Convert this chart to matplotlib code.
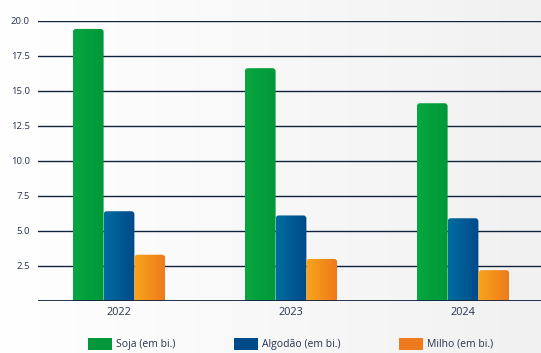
import matplotlib.pyplot as plt
import numpy as np
from matplotlib.colors import LinearSegmentedColormap
from matplotlib.patches import FancyBboxPatch, Patch

anos = ["2022", "2023", "2024"]
soja = [19.4, 16.6, 14.1]
algodao = [6.4, 6.1, 5.9]
milho = [3.3, 3.0, 2.2]

series = [
    ("Soja (em bi.)", soja, ("#08a640", "#00983a")),
    ("Algodão (em bi.)", algodao, ("#006ca0", "#004a8a")),
    ("Milho (em bi.)", milho, ("#f8a41c", "#ee7b1b")),
]

yticks = [2.5, 5.0, 7.5, 10.0, 12.5, 15.0, 17.5, 20.0]
texto = "#26334d"
linha = "#13233f"

fig = plt.figure(figsize=(5.41, 3.53), dpi=100)

# fundo com leve degradê
bg = fig.add_axes([0, 0, 1, 1], zorder=-2)
bg.imshow(np.linspace(0, 1, 256).reshape(1, -1), aspect="auto",
          cmap=LinearSegmentedColormap.from_list("bg", ["#ffffff", "#f1f1f1"]),
          extent=[0, 1, 0, 1])
bg.axis("off")

ax = fig.add_axes([38 / 541, 1 - 301 / 353, 1 - 38 / 541, (301 - 20.5) / 353])
ax.patch.set_alpha(0)

x = np.arange(len(anos))
largura = 0.179
offsets = [-largura, 0, largura]

for (nome, vals, cores), off in zip(series, offsets):
    barras = ax.bar(x + off, vals, largura, color="none", edgecolor="none")
    cmap = LinearSegmentedColormap.from_list(nome, cores)
    for b in barras:
        x0, w, h = b.get_x(), b.get_width(), b.get_height()
        forma = FancyBboxPatch((x0, -1), w, h + 1,
                               boxstyle="round,pad=0,rounding_size=0.018",
                               mutation_aspect=12.3, facecolor="none",
                               edgecolor="none", transform=ax.transData)
        ax.add_patch(forma)
        img = ax.imshow(np.linspace(0, 1, 64).reshape(1, -1), cmap=cmap,
                        aspect="auto", extent=[x0, x0 + w, -1, h], zorder=2)
        img.set_clip_path(forma)

ax.set_xlim(-81 / 172, 422 / 172)
ax.set_ylim(0, 20)

for t in yticks:
    ax.axhline(t, color=linha, lw=1.0, zorder=1)
ax.axhline(0, color=linha, lw=1.3, zorder=3)

ax.set_yticks(yticks)
ax.set_yticklabels([f"{t:.1f}" for t in yticks])
ax.set_xticks(x)
ax.set_xticklabels(anos)
ax.tick_params(axis="y", length=0, pad=6, labelsize=6.8, labelcolor=texto)
ax.tick_params(axis="x", length=0, pad=4, labelsize=7.8, labelcolor=texto)
for lab in ax.get_xticklabels() + ax.get_yticklabels():
    lab.set_fontfamily("Open Sans")
for s in ax.spines.values():
    s.set_visible(False)

handles = [Patch(facecolor=c[1], label=n) for n, _, c in series]
fig.legend(handles=handles, loc="lower left", bbox_to_anchor=(88 / 541, 3 / 353),
           ncol=3, frameon=False, handlelength=2.3, handleheight=1.4,
           handletextpad=0.4, columnspacing=5.6, borderpad=0, borderaxespad=0,
           prop={"family": "Open Sans", "size": 7.5}, labelcolor=texto)

fig.savefig("out.png", dpi=100)
